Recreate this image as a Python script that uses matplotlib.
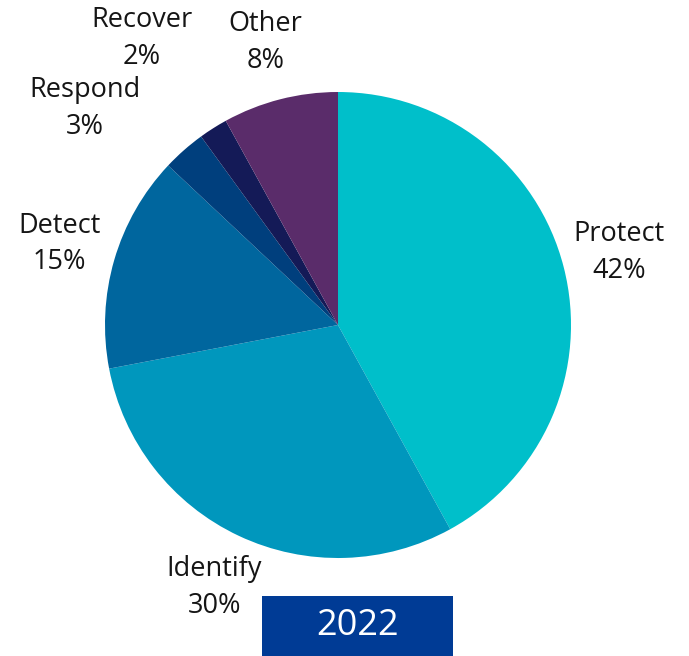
import math
import matplotlib
matplotlib.use("Agg")
import matplotlib.pyplot as plt
from matplotlib.patches import Rectangle

plt.rcParams['font.family'] = ['Open Sans', 'DejaVu Sans']

# NIST CSF function share, 2022
categories = ["Protect", "Identify", "Detect", "Respond", "Recover", "Other"]
shares = [42, 30, 15, 3, 2, 8]
colors = ["#00BFCA", "#0097BD", "#00669E", "#003F7D", "#141A57", "#5A2C6A"]
year_label = "2022"

# label distance (in radii) along each wedge's mid angle, plus angle nudge (deg)
label_dist = [1.245, 1.245, 1.245, 1.43, 1.49, 1.25]
label_nudge = [0, 0, 0, 8, 2, 0]

W, H = 689, 656
fig = plt.figure(figsize=(W / 100, H / 100), dpi=100)
ax = fig.add_axes([0, 0, 1, 1])

cx, cy, r = 338, H - 325, 233
wedges, _ = ax.pie(shares, colors=colors, startangle=90, counterclock=False,
                   center=(cx, cy), radius=r, frame=True,
                   wedgeprops=dict(linewidth=0))
ax.set_xlim(0, W)
ax.set_ylim(0, H)
ax.set_aspect('equal')
ax.axis('off')

for w, name, val, d, nudge in zip(wedges, categories, shares, label_dist, label_nudge):
    mid = math.radians((w.theta1 + w.theta2) / 2 + nudge)
    tx = cx + d * r * math.cos(mid)
    ty = cy + d * r * math.sin(mid)
    ax.text(tx, ty, f"{name}\n{val}%", ha='center', va='center',
            fontsize=19.5, color='#151515', linespacing=1.42)

# year badge
ax.add_patch(Rectangle((262, 0), 191, H - 596, facecolor='#003B95',
                       edgecolor='none'))
ax.text(357.5, (H - 596) / 2, year_label, ha='center', va='center',
        fontsize=26, color='white')

fig.savefig("out.png", dpi=100)
